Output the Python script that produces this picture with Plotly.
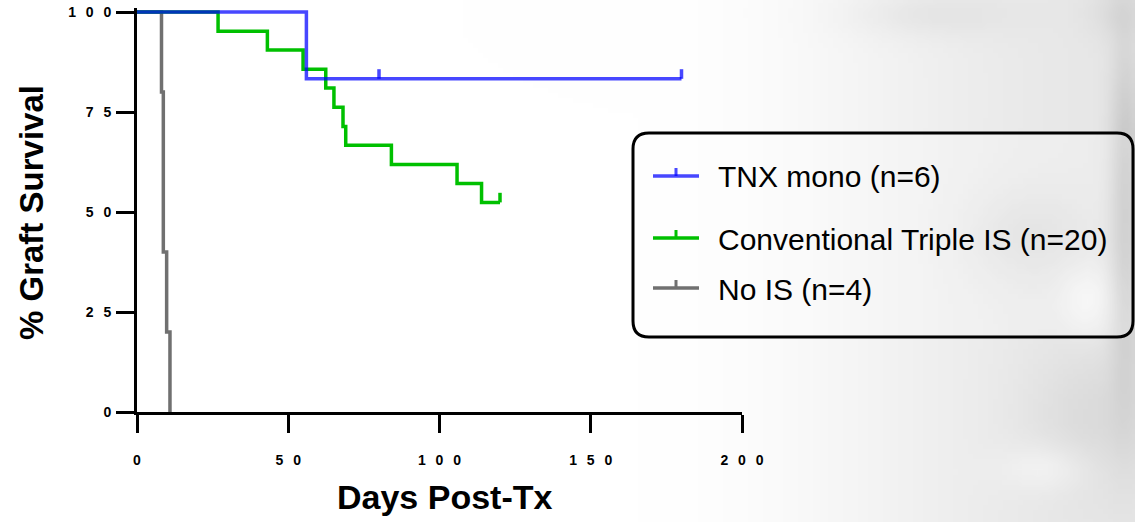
import base64, struct, zlib
import numpy as np
import plotly.graph_objects as go

# ---------------- data ----------------
tnx_days = [0, 56.0, 180.0]
tnx_surv = [100, 83.3, 83.3]
tnx_censor_days = [80.0, 180.0]
tnx_censor_surv = [83.3, 83.3]

triple_days = [0, 26.8, 43.1, 54.9, 62.4, 65.1, 68.1, 69.0, 84.1, 105.8, 113.9, 120.0]
triple_surv = [100, 95.2, 90.5, 85.7, 81.0, 76.2, 71.4, 66.7, 61.9, 57.1, 52.4, 52.4]
triple_censor_days = [120.0]
triple_censor_surv = [52.4]

nois_days = [0, 8.1, 8.7, 9.8, 10.9]
nois_surv = [100, 80, 40, 20, 0]

series_names = ["TNX mono (n=6)", "Conventional Triple IS (n=20)", "No IS (n=4)"]
x_tickvals = [0, 50, 100, 150, 200]
x_ticktext = ["0", "5\u2002\u20090", "1\u2002\u20090\u2002\u20090", "1\u2002\u20095\u2002\u20090", "2\u2002\u20090\u2002\u20090"]
y_tickvals = [0, 25, 50, 75, 100]
y_ticktext = ["0", "2\u2002\u20095", "5\u2002\u20090", "7\u2002\u20095", "1\u2002\u20090\u2002\u20090"]
x_title = "Days Post-Tx"
y_title = "% Graft Survival"

# ---------------- layout geometry ----------------
W, H = 1135, 522
ML, MR, MT, MB = 137, 393, 8, 110
PW, PH = W - ML - MR, H - MT - MB
CENSOR_H = 2.4  # tick height in y units

BLUE = "rgba(0,0,255,0.72)"
GREEN = "#00c000"
GREY = "#707070"
FONT = "Liberation Sans, Arial, sans-serif"


def px(x):
    return (x - ML) / PW


def py(y):
    return (H - MB - y) / PH


def censor_xy(days, surv):
    xs, ys = [], []
    for d, s in zip(days, surv):
        xs += [d, d, None]
        ys += [s, s + CENSOR_H, None]
    return xs, ys


# ---------------- background (soft grey photo-like wash) ----------------
def make_bg(w=227, h=104):
    X = np.linspace(0, W, w)[None, :]
    Y = np.linspace(0, H, h)[:, None]
    t = np.clip((X - 640) / (W - 640), 0, 1)
    t = t * t * (3 - 2 * t)
    img = 255 - 24 * t + 0 * Y

    def blob(cx, cy, sx, sy, amp):
        return amp * np.exp(-(((X - cx) / sx) ** 2 + ((Y - cy) / sy) ** 2))

    img = img + blob(930, 12, 80, 22, -10)
    img = img + blob(1128, 210, 16, 170, -36)
    img = img + blob(1090, 300, 28, 35, 14)
    img = img + blob(1030, 235, 60, 45, -12)
    img = img + blob(1100, 420, 70, 70, -12)
    img = img + blob(1050, 470, 45, 25, 12)
    img = img + blob(1120, 10, 30, 25, -10)
    img = np.clip(img, 0, 255).astype(np.uint8)
    raw = b"".join(b"\x00" + img[i].tobytes() for i in range(h))

    def chunk(tag, data):
        return (struct.pack(">I", len(data)) + tag + data
                + struct.pack(">I", zlib.crc32(tag + data) & 0xFFFFFFFF))

    png = (b"\x89PNG\r\n\x1a\n"
           + chunk(b"IHDR", struct.pack(">IIBBBBB", w, h, 8, 0, 0, 0, 0))
           + chunk(b"IDAT", zlib.compress(raw, 9))
           + chunk(b"IEND", b""))
    return "data:image/png;base64," + base64.b64encode(png).decode()


fig = go.Figure()

fig.add_trace(go.Scatter(x=nois_days, y=nois_surv, mode="lines", line_shape="hv",
                         line=dict(color=GREY, width=3.5), name=series_names[2],
                         showlegend=False, hoverinfo="skip"))
fig.add_trace(go.Scatter(x=triple_days, y=triple_surv, mode="lines", line_shape="hv",
                         line=dict(color=GREEN, width=3.5), name=series_names[1],
                         showlegend=False, hoverinfo="skip"))
cx, cy = censor_xy(triple_censor_days, triple_censor_surv)
fig.add_trace(go.Scatter(x=cx, y=cy, mode="lines", line=dict(color=GREEN, width=3.5),
                         showlegend=False, hoverinfo="skip"))
fig.add_trace(go.Scatter(x=tnx_days, y=tnx_surv, mode="lines", line_shape="hv",
                         line=dict(color=BLUE, width=3.5), name=series_names[0],
                         showlegend=False, hoverinfo="skip"))
cx, cy = censor_xy(tnx_censor_days, tnx_censor_surv)
fig.add_trace(go.Scatter(x=cx, y=cy, mode="lines", line=dict(color=BLUE, width=3.5),
                         showlegend=False, hoverinfo="skip"))

# ---------------- custom legend ----------------
x0, y0, x1, y1, r = 633, 133, 1133, 337, 16
path = (f"M {px(x0 + r)} {py(y0)} L {px(x1 - r)} {py(y0)} Q {px(x1)} {py(y0)} {px(x1)} {py(y0 + r)} "
        f"L {px(x1)} {py(y1 - r)} Q {px(x1)} {py(y1)} {px(x1 - r)} {py(y1)} "
        f"L {px(x0 + r)} {py(y1)} Q {px(x0)} {py(y1)} {px(x0)} {py(y1 - r)} "
        f"L {px(x0)} {py(y0 + r)} Q {px(x0)} {py(y0)} {px(x0 + r)} {py(y0)} Z")
shapes = [dict(type="path", xref="paper", yref="paper", path=path,
               line=dict(color="black", width=3), fillcolor="rgba(255,255,255,0.25)", layer="above")]
annotations = []
leg_rows = [(176, 176, BLUE), (238, 239, GREEN), (288, 289, GREY)]
for (ly, ty, col), name in zip(leg_rows, series_names):
    shapes.append(dict(type="line", xref="paper", yref="paper", x0=px(653), x1=px(699),
                       y0=py(ly), y1=py(ly), line=dict(color=col, width=3.5)))
    shapes.append(dict(type="line", xref="paper", yref="paper", x0=px(676), x1=px(676),
                       y0=py(ly), y1=py(ly - 8), line=dict(color=col, width=3)))
    annotations.append(dict(text=name, xref="paper", yref="paper", x=px(716), y=py(ty),
                            xanchor="left", yanchor="middle", showarrow=False,
                            font=dict(family=FONT, size=30, color="black")))

annotations.append(dict(text=y_title, xref="paper", yref="paper", x=px(31), y=py(213),
                        xanchor="center", yanchor="middle", textangle=-90, showarrow=False,
                        font=dict(family=FONT, size=33, color="black", weight="bold")))
annotations.append(dict(text=x_title, xref="paper", yref="paper", x=px(445), y=py(497),
                        xanchor="center", yanchor="middle", showarrow=False,
                        font=dict(family=FONT, size=34, color="black", weight="bold")))

fig.update_layout(
    width=W, height=H, margin=dict(l=ML, r=MR, t=MT, b=MB, autoexpand=False),
    paper_bgcolor="white", plot_bgcolor="rgba(0,0,0,0)",
    showlegend=False, shapes=shapes, annotations=annotations,
    images=[dict(source=make_bg(), xref="paper", yref="paper", x=px(0), y=py(0),
                 sizex=W / PW, sizey=H / PH, sizing="stretch", xanchor="left", yanchor="top",
                 layer="below")],
    xaxis=dict(range=[0, 200], tickvals=x_tickvals, ticktext=x_ticktext, showgrid=False,
               zeroline=False, showline=True, linecolor="black", linewidth=3,
               ticks="outside", ticklen=18, tickwidth=3, tickcolor="black",
               ticklabelstandoff=15, automargin=False,
               tickfont=dict(family=FONT, size=14, color="black", weight="bold")),
    yaxis=dict(range=[0, 101], tickvals=y_tickvals, ticktext=y_ticktext, showgrid=False,
               zeroline=False, showline=True, linecolor="black", linewidth=3,
               ticks="outside", ticklen=18, tickwidth=3, tickcolor="black",
               ticklabelstandoff=2, automargin=False,
               tickfont=dict(family=FONT, size=14, color="black", weight="bold")),
)

fig.write_html("out.html", config={"displayModeBar": False},
               post_script="document.body.style.margin='0px';document.body.style.overflow='hidden';")
